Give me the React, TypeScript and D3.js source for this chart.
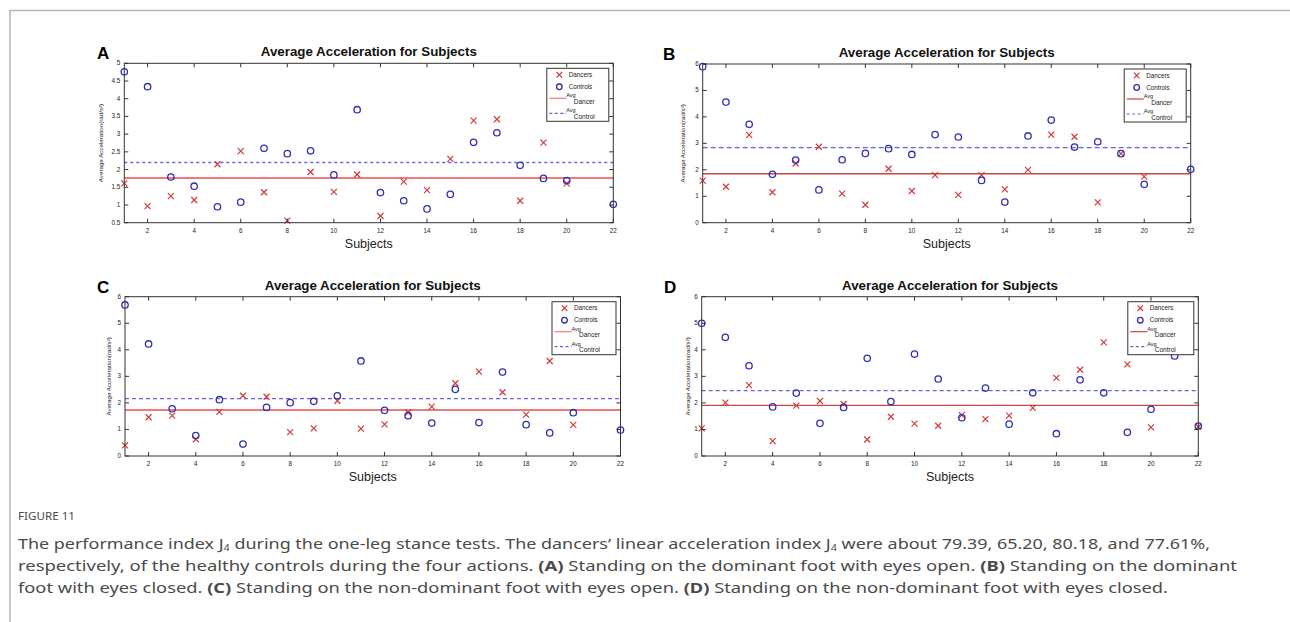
import React from "react";
import * as d3 from "d3";

// ---------- data ----------
const subjects = [1, 2, 3, 4, 5, 6, 7, 8, 9, 10, 11, 12, 13, 14, 15, 16, 17, 18, 19, 20, 21, 22];
const xTicks = [2, 4, 6, 8, 10, 12, 14, 16, 18, 20, 22];
const yTicksA = [0.5, 1, 1.5, 2, 2.5, 3, 3.5, 4, 4.5, 5];
const yTicks6 = [0, 1, 2, 3, 4, 5, 6];

const dancersA = [1.61, 0.97, 1.25, 1.14, 2.15, 2.52, 1.36, 0.56, 1.93, 1.37, 1.86, 0.69, 1.66, 1.42, 2.3, 3.38, 3.42, 1.12, 2.76, 1.61, null, null];
const controlsA = [4.76, 4.34, 1.79, 1.53, 0.95, 1.08, 2.6, 2.45, 2.53, 1.85, 3.69, 1.35, 1.12, 0.89, 1.3, 2.77, 3.04, 2.12, 1.75, 1.69, null, 1.02];
const avgA = [1.76, 2.2];

const dancersB = [1.59, 1.36, 3.32, 1.15, 2.24, 2.87, 1.1, 0.68, 2.04, 1.2, 1.8, 1.05, 1.8, 1.26, 2.0, 3.33, 3.25, 0.77, 2.61, 1.74, null, null];
const controlsB = [5.9, 4.56, 3.72, 1.83, 2.37, 1.24, 2.38, 2.62, 2.8, 2.58, 3.33, 3.24, 1.6, 0.78, 3.28, 3.88, 2.86, 3.06, 2.61, 1.45, null, 2.02];
const avgB = [1.85, 2.84];

const dancersC = [0.4, 1.46, 1.52, 0.63, 1.66, 2.27, 2.23, 0.9, 1.04, 2.08, 1.03, 1.19, 1.64, 1.86, 2.74, 3.18, 2.4, 1.56, 3.58, 1.17, null, null];
const controlsC = [5.69, 4.22, 1.78, 0.77, 2.12, 0.45, 1.83, 2.01, 2.06, 2.27, 3.58, 1.72, 1.52, 1.24, 2.51, 1.26, 3.16, 1.18, 0.87, 1.63, null, 0.98];
const avgC = [1.73, 2.16];

const dancersD = [1.04, 2.01, 2.67, 0.56, 1.9, 2.07, 1.96, 0.62, 1.48, 1.22, 1.14, 1.54, 1.39, 1.52, 1.81, 2.94, 3.25, 4.28, 3.45, 1.08, null, 1.1];
const controlsD = [5.0, 4.47, 3.4, 1.85, 2.37, 1.23, 1.83, 3.68, 2.05, 3.84, 2.9, 1.44, 2.56, 1.2, 2.38, 0.84, 2.87, 2.38, 0.89, 1.76, 3.77, 1.13];
const avgD = [1.91, 2.46];

const titleText = "Average Acceleration for Subjects";
const xLabelText = "Subjects";
const yLabelText = "Average Acceleration(rad/s²)";
const legendLabels = ["Dancers", "Controls", "Avg", "Dancer", "Control"];

const panels = [
  { key: "A", dancers: dancersA, controls: controlsA, avg: avgA, yDomain: [0.5, 5], yTicks: yTicksA },
  { key: "B", dancers: dancersB, controls: controlsB, avg: avgB, yDomain: [0, 6], yTicks: yTicks6 },
  { key: "C", dancers: dancersC, controls: controlsC, avg: avgC, yDomain: [0, 6], yTicks: yTicks6 },
  { key: "D", dancers: dancersD, controls: controlsD, avg: avgD, yDomain: [0, 6], yTicks: yTicks6 },
];

// ---------- layout (positions / styles) ----------
const layouts: Record<string, any> = {
  A: { x0: 124.3, x1: 613.3, y0: 63.3, y1: 222.7, letterX: 97, yLabOff: 21, legW: 62, avgW: 2, avgC: "#f07a7a", dash: "3,3" },
  B: { x0: 702.7, x1: 1190.7, y0: 64, y1: 222.7, letterX: 663, yLabOff: 18, legW: 62, avgW: 1.3, avgC: "#cc4444", dash: "5,3" },
  C: { x0: 125, x1: 620.5, y0: 296.7, y1: 456, letterX: 97, yLabOff: 14, legW: 64, avgW: 2, avgC: "#f07a7a", dash: "4,3" },
  D: { x0: 701.7, x1: 1198.3, y0: 296.7, y1: 456, letterX: 664, yLabOff: 11.5, legW: 66, avgW: 1.3, avgC: "#cc4444", dash: "4,3" },
};

const RED = "#d23a3a";
const BLUE = "#2f2fb4";
const CTRL_LINE = "#6464e0";
const AXIS = "#333";
const FONT = "Liberation Sans, Arial, sans-serif";

function cross(cx: number, cy: number, s: number) {
  return `M${cx - s},${cy - s}L${cx + s},${cy + s}M${cx - s},${cy + s}L${cx + s},${cy - s}`;
}

function Panel({ p, l }: { p: any; l: any }) {
  const x = d3.scaleLinear().domain([1, 22]).range([l.x0, l.x1]);
  const y = d3.scaleLinear().domain(p.yDomain).range([l.y1, l.y0]);
  const tk = 4;
  const legX = l.x1 - 4.5 - l.legW;
  const legY = l.y0 + 5;
  const cx = (l.x0 + l.x1) / 2;
  const cy = (l.y0 + l.y1) / 2;
  return (
    <g>
      {/* avg lines */}
      <line x1={l.x0} x2={l.x1} y1={y(p.avg[0])} y2={y(p.avg[0])} stroke={l.avgC} strokeWidth={l.avgW} />
      <line x1={l.x0} x2={l.x1} y1={y(p.avg[1])} y2={y(p.avg[1])} stroke={CTRL_LINE} strokeWidth={1.3} strokeDasharray={l.dash} />
      {/* markers */}
      {subjects.map((s, i) =>
        p.dancers[i] == null ? null : (
          <path key={"d" + i} d={cross(x(s), y(p.dancers[i]), 3)} stroke={RED} strokeWidth={1.2} fill="none" />
        )
      )}
      {subjects.map((s, i) =>
        p.controls[i] == null ? null : (
          <circle key={"c" + i} cx={x(s)} cy={y(p.controls[i])} r={3.2} stroke={BLUE} strokeWidth={1.3} fill="none" />
        )
      )}
      {/* box */}
      <rect x={l.x0} y={l.y0} width={l.x1 - l.x0} height={l.y1 - l.y0} fill="none" stroke={AXIS} strokeWidth={1} />
      {/* ticks */}
      {xTicks.map((t) => (
        <g key={"xt" + t}>
          <line x1={x(t)} x2={x(t)} y1={l.y1} y2={l.y1 - tk} stroke={AXIS} />
          <line x1={x(t)} x2={x(t)} y1={l.y0} y2={l.y0 + tk} stroke={AXIS} />
          <text x={x(t)} y={l.y1 + 10} fontSize={6.3} textAnchor="middle" fill="#222" fontFamily={FONT}>
            {t}
          </text>
        </g>
      ))}
      {p.yTicks.map((t: number) => (
        <g key={"yt" + t}>
          <line x1={l.x0} x2={l.x0 + tk} y1={y(t)} y2={y(t)} stroke={AXIS} />
          <line x1={l.x1} x2={l.x1 - tk} y1={y(t)} y2={y(t)} stroke={AXIS} />
          <text x={l.x0 - 4} y={y(t) + 2} fontSize={6.3} textAnchor="end" fill="#222" fontFamily={FONT}>
            {t}
          </text>
        </g>
      ))}
      {/* labels */}
      <text
        x={cx - 108}
        y={l.y0 - 7}
        fontSize={12.5}
        fontWeight="bold"
        fill="#111"
        fontFamily={FONT}
        textLength={216}
        lengthAdjust="spacingAndGlyphs"
      >
        {titleText}
      </text>
      <text x={cx} y={l.y1 + 25} fontSize={12.5} textAnchor="middle" fill="#222" fontFamily={FONT}>
        {xLabelText}
      </text>
      <text
        transform={`translate(${l.x0 - l.yLabOff},${cy}) rotate(-90)`}
        fontSize={6.2}
        textAnchor="middle"
        fill="#222"
        fontFamily={FONT}
      >
        {yLabelText}
      </text>
      <text x={l.letterX} y={l.y0 - 4} fontSize={17} fontWeight="bold" fill="#000" fontFamily={FONT}>
        {p.key}
      </text>
      {/* legend */}
      <g>
        <rect x={legX} y={legY} width={l.legW} height={53} fill="#fff" stroke={AXIS} strokeWidth={1} />
        <path d={cross(legX + 12.5, legY + 6.5, 2.8)} stroke={RED} strokeWidth={1.2} fill="none" />
        <text x={legX + 22} y={legY + 8.7} fontSize={6.3} fill="#222" fontFamily={FONT}>
          {legendLabels[0]}
        </text>
        <circle cx={legX + 12.5} cy={legY + 18.5} r={2.8} stroke={BLUE} strokeWidth={1.3} fill="none" />
        <text x={legX + 22} y={legY + 20.7} fontSize={6.3} fill="#222" fontFamily={FONT}>
          {legendLabels[1]}
        </text>
        <line x1={legX + 2.5} x2={legX + 19.5} y1={legY + 30} y2={legY + 30} stroke={l.avgC} strokeWidth={1.2} />
        <text x={legX + 19.5} y={legY + 29} fontSize={5.5} fill="#222" fontFamily={FONT}>
          {legendLabels[2]}
        </text>
        <text x={legX + 27} y={legY + 35.5} fontSize={6.5} fill="#222" fontFamily={FONT}>
          {legendLabels[3]}
        </text>
        <line x1={legX + 2.5} x2={legX + 19.5} y1={legY + 45} y2={legY + 45} stroke={CTRL_LINE} strokeWidth={1.2} strokeDasharray="3,2.5" />
        <text x={legX + 19.5} y={legY + 44} fontSize={5.5} fill="#222" fontFamily={FONT}>
          {legendLabels[2]}
        </text>
        <text x={legX + 27} y={legY + 50.5} fontSize={6.5} fill="#222" fontFamily={FONT}>
          {legendLabels[4]}
        </text>
      </g>
    </g>
  );
}

const CAP_FONT = "'Noto Sans', 'Open Sans', sans-serif";
const CAP_COLOR = "#4a4a4a";

export default function App() {
  return (
    <svg
      width={1290}
      height={622}
      style={{ position: "absolute", left: 0, top: 0, background: "#fff" }}
      xmlns="http://www.w3.org/2000/svg"
    >
      <rect x={0} y={0} width={1290} height={622} fill="#fff" />
      <path d="M10,622V10.5H1290" fill="none" stroke="#b4b4b4" strokeWidth={1.5} />
      {panels.map((p) => (
        <Panel key={p.key} p={p} l={layouts[p.key]} />
      ))}
      <text x={18} y={520} fontSize={10.5} fill={CAP_COLOR} fontFamily={CAP_FONT} textLength={57} lengthAdjust="spacingAndGlyphs">
        FIGURE 11
      </text>
      <text x={18} y={549} fontSize={15} fill={CAP_COLOR} fontFamily={CAP_FONT} textLength={1192} lengthAdjust="spacingAndGlyphs">
        The performance index J<tspan fontSize={9} baselineShift={-2}>4</tspan> during the one-leg stance tests. The dancers’ linear
        acceleration index J<tspan fontSize={9} baselineShift={-2}>4</tspan> were about 79.39, 65.20, 80.18, and 77.61%,
      </text>
      <text x={18} y={571} fontSize={15} fill={CAP_COLOR} fontFamily={CAP_FONT} textLength={1219} lengthAdjust="spacingAndGlyphs">
        respectively, of the healthy controls during the four actions. <tspan fontWeight="bold">(A)</tspan> Standing on the
        dominant foot with eyes open. <tspan fontWeight="bold">(B)</tspan> Standing on the dominant
      </text>
      <text x={18} y={593} fontSize={15} fill={CAP_COLOR} fontFamily={CAP_FONT} textLength={1150} lengthAdjust="spacingAndGlyphs">
        foot with eyes closed. <tspan fontWeight="bold">(C)</tspan> Standing on the non-dominant foot with eyes open.{" "}
        <tspan fontWeight="bold">(D)</tspan> Standing on the non-dominant foot with eyes closed.
      </text>
    </svg>
  );
}
